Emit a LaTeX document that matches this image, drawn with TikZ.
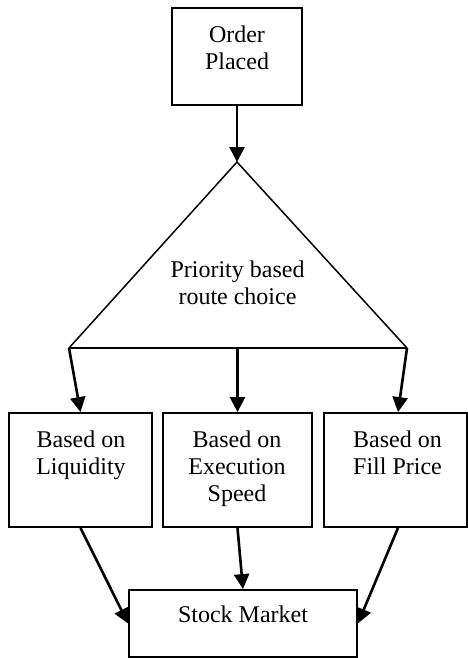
\documentclass[tikz,border=0pt]{standalone}
\usepackage{fontspec}
\setmainfont{Liberation Serif}
\usetikzlibrary{arrows.meta}
\begin{document}
\begin{tikzpicture}[x=1pt,y=-1pt,
  box/.style={draw, line width=1.8pt, inner sep=0, minimum height=#1},
  lbl/.style={font=\fontsize{24}{27}\selectfont, align=center, inner sep=0, anchor=north},
  arr/.style={line width=2.6pt, -{Triangle[length=15pt,width=15pt]}}]
\useasboundingbox (0,0) rectangle (468,658);
% boxes
\node[box=97, minimum width=130] (order) at (237,56.5) {};
\node[box=114, minimum width=143] (liq) at (80.5,470) {};
\node[box=114, minimum width=149] (speed) at (237.5,470) {};
\node[box=114, minimum width=143] (fill) at (395.5,470) {};
\node[box=67, minimum width=228] (stock) at (243,623.5) {};
% labels
\node[lbl] (tOrder) at (237,26) {Order\\Placed};
\node[lbl] (tLiq) at (81,431) {Based on\\Liquidity};
\node[lbl] (tSpeed) at (237,431) {Based on\\Execution\\Speed};
\node[lbl] (tFill) at (397.5,431) {Based on\\Fill Price};
\node[lbl] (tStock) at (243,606) {Stock Market};
% triangle
\coordinate (apex) at (237,162);
\coordinate (bl) at (69,348);
\coordinate (br) at (407,348);
\coordinate (bm) at (237.5,348);
\draw[line width=1.5pt, line join=miter] (bl) -- (apex) -- (br);
\draw[line width=2.6pt] (bl) -- (br);
\node[lbl] (tPrio) at (237.5,261) {Priority based\\route choice};
% connectors
\draw[arr] (order.south) -- (apex);
\draw[arr] (bl) -- (liq.north);
\draw[arr] (bm) -- (speed.north);
\draw[arr] (br) -- ([xshift=2.5pt]fill.north);
\draw[arr] (liq.south) -- (stock.west);
\draw[arr] (speed.south) -- (stock.north);
\draw[arr] ([xshift=2.5pt]fill.south) -- (stock.east);
\end{tikzpicture}
\end{document}
